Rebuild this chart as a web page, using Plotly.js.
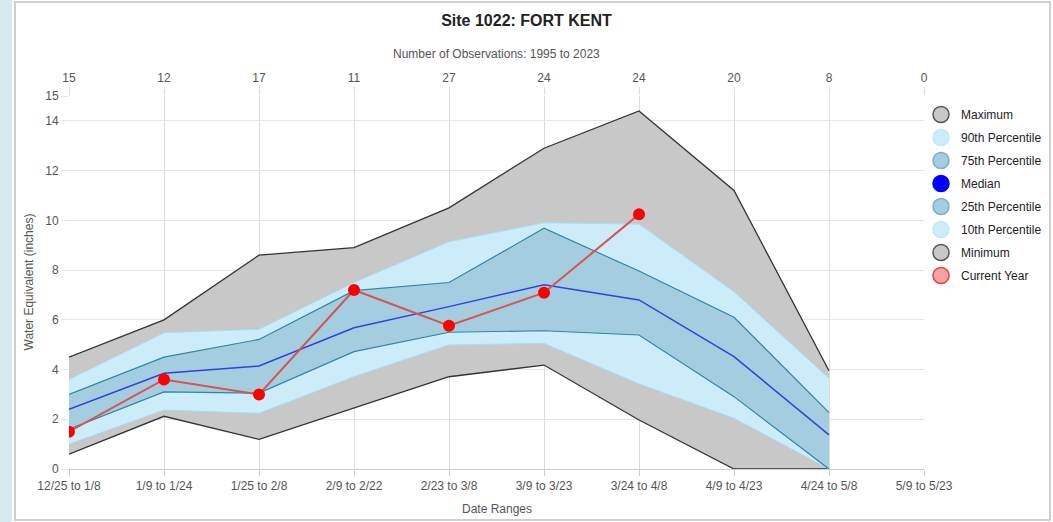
<!DOCTYPE html>
<html>
<head>
<meta charset="utf-8">
<script src="https://cdn.plot.ly/plotly-3.0.1.min.js"></script>
<style>html,body{margin:0;padding:0;background:#fff;}#chart{width:1053px;height:522px;}</style>
</head>
<body>
<div id="chart"></div>
<script>
var categories = ['12/25 to 1/8','1/9 to 1/24','1/25 to 2/8','2/9 to 2/22','2/23 to 3/8','3/9 to 3/23','3/24 to 4/8','4/9 to 4/23','4/24 to 5/8','5/9 to 5/23'];
var observations = ['15','12','17','11','27','24','24','20','8','0'];
var maximum = [4.5, 6.0, 8.6, 8.9, 10.5, 12.9, 14.4, 11.2, 3.95];
var p90 = [3.6, 5.48, 5.62, 7.5, 9.14, 9.9, 9.85, 7.13, 3.65];
var p75 = [3.0, 4.5, 5.21, 7.17, 7.5, 9.68, 7.96, 6.1, 2.27];
var median = [2.4, 3.85, 4.14, 5.68, 6.53, 7.41, 6.8, 4.52, 1.37];
var p25 = [1.6, 3.1, 3.05, 4.72, 5.5, 5.56, 5.39, 2.91, 0];
var p10 = [1.0, 2.37, 2.24, 3.71, 4.99, 5.05, 3.42, 2.04, 0];
var minimum = [0.6, 2.12, 1.19, 2.44, 3.71, 4.18, 1.97, 0, 0];
var currentYear = [1.5, 3.6, 3.0, 7.2, 5.76, 7.09, 10.24];
var yTicks = [0, 2, 4, 6, 8, 10, 12, 14, 15];

var bandX = categories.slice(0, maximum.length);
var curX = categories.slice(0, currentYear.length);

var GRAY = '#c8c8c8', LIGHT = '#ccecfa', MID = '#a5cde0';

var traces = [
  {x: bandX, y: minimum, mode: 'lines', line: {color: '#333', width: 1.3}, showlegend: false, hoverinfo: 'skip'},
  {x: bandX, y: maximum, mode: 'lines', fill: 'tonexty', fillcolor: GRAY, line: {color: '#333', width: 1.3}, showlegend: false, hoverinfo: 'skip'},
  {x: bandX, y: p10, mode: 'lines', line: {color: '#a9dcf0', width: 1}, showlegend: false, hoverinfo: 'skip'},
  {x: bandX, y: p90, mode: 'lines', fill: 'tonexty', fillcolor: LIGHT, line: {color: '#a9dcf0', width: 1}, showlegend: false, hoverinfo: 'skip'},
  {x: bandX, y: p25, mode: 'lines', line: {color: '#2f86a6', width: 1.2}, showlegend: false, hoverinfo: 'skip'},
  {x: bandX, y: p75, mode: 'lines', fill: 'tonexty', fillcolor: MID, line: {color: '#2f86a6', width: 1.2}, showlegend: false, hoverinfo: 'skip'},
  {x: bandX, y: median, mode: 'lines', line: {color: '#3340e0', width: 1.5}, showlegend: false},
  {x: curX, y: currentYear, mode: 'lines+markers', line: {color: '#d9534f', width: 2}, marker: {color: '#ff0000', size: 12}, showlegend: false},
  {x: categories, y: categories.map(function(){return null;}), xaxis: 'x2', mode: 'none', showlegend: false, hoverinfo: 'skip'}
];

var legendItems = [
  ['Maximum', GRAY, '#555'],
  ['90th Percentile', LIGHT, '#c4e6f5'],
  ['75th Percentile', MID, '#7eaec8'],
  ['Median', '#0000ff', '#0000ff'],
  ['25th Percentile', MID, '#7eaec8'],
  ['10th Percentile', LIGHT, '#c4e6f5'],
  ['Minimum', GRAY, '#555'],
  ['Current Year', '#f6a3a3', '#ee3b3b']
];
legendItems.forEach(function(it, i){
  traces.push({x: [null], y: [null], mode: 'markers', name: it[0], legendgroup: 'g' + i,
    marker: {color: it[1], size: 16, line: {color: it[2], width: 1.5}}});
});

function px2x(p){ return (p - 69) / 855; }
function py2y(p){ return (469 - p) / 373; }

var layout = {
  width: 1053, height: 522,
  margin: {l: 69, r: 129, t: 96, b: 53, autoexpand: false},
  paper_bgcolor: '#fff', plot_bgcolor: '#fff',
  font: {family: 'Liberation Sans, Arial, sans-serif', size: 12, color: '#555'},
  title: {text: '<b>Site 1022: FORT KENT</b>', font: {size: 16, color: '#222'}, x: 0.5, xref: 'container', y: 1 - 20/522, yref: 'container', yanchor: 'middle'},
  xaxis: {type: 'category', categoryarray: categories, range: [0, 9], showgrid: true, gridcolor: '#dcdcdc', zeroline: false,
    showline: true, linecolor: '#cccccc', ticks: 'outside', ticklen: 6, tickcolor: '#cccccc', tickfont: {size: 12, color: '#555'}},
  xaxis2: {type: 'category', categoryarray: categories, overlaying: 'x', side: 'top', range: [0, 9], showgrid: false, zeroline: false,
    tickmode: 'array', tickvals: categories, ticktext: observations, ticks: 'outside', ticklen: 8, tickcolor: '#dcdcdc', tickfont: {size: 12, color: '#555'}},
  yaxis: {range: [0, 15], tickmode: 'array', tickvals: yTicks, showgrid: true, gridcolor: '#e6e6e6', zeroline: false,
    ticks: 'outside', ticklen: 7, tickcolor: '#e6e6e6', tickfont: {size: 12, color: '#555'}},
  legend: {x: px2x(921), xanchor: 'left', y: py2y(100), yanchor: 'top', bgcolor: 'rgba(0,0,0,0)', tracegroupgap: 4,
    font: {size: 12, color: '#222'}},
  annotations: [
    {text: 'Number of Observations: 1995 to 2023', xref: 'paper', yref: 'paper', x: 0.5, y: py2y(54), showarrow: false, yanchor: 'middle', font: {size: 12, color: '#555'}},
    {text: 'Water Equivalent (inches)', xref: 'paper', yref: 'paper', x: px2x(28), y: 0.5, textangle: -90, showarrow: false, xanchor: 'center', yanchor: 'middle', font: {size: 12, color: '#555'}},
    {text: 'Date Ranges', xref: 'paper', yref: 'paper', x: 0.5, y: py2y(509), showarrow: false, yanchor: 'middle', font: {size: 12, color: '#555'}}
  ],
  shapes: [
    {type: 'rect', xref: 'paper', yref: 'paper', x0: px2x(0), x1: px2x(12), y0: py2y(522), y1: py2y(0), fillcolor: '#d8eaf0', line: {width: 0}, layer: 'below'},
    {type: 'rect', xref: 'paper', yref: 'paper', x0: px2x(15), x1: px2x(1050), y0: py2y(520), y1: py2y(2), fillcolor: 'rgba(0,0,0,0)', line: {color: '#cfcfcf', width: 2}, layer: 'below'}
  ],
  showlegend: true,
  hovermode: false
};

Plotly.newPlot('chart', traces, layout, {displayModeBar: false, staticPlot: true});
</script>
</body>
</html>
